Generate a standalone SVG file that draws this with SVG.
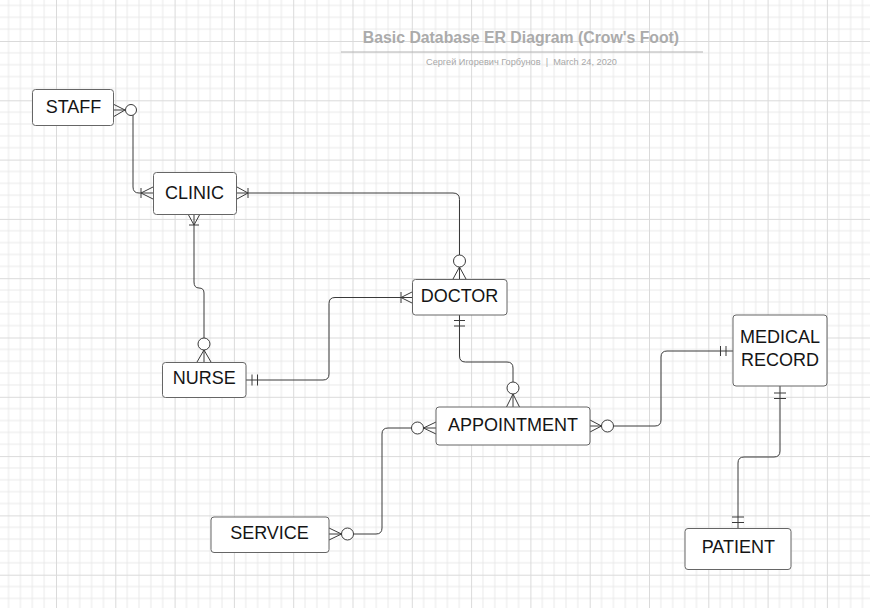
<svg xmlns="http://www.w3.org/2000/svg" width="870" height="608" viewBox="0 0 870 608">
<style>
.ent{fill:#ffffff;stroke:#666666;stroke-width:1}
.lbl{font-family:"Liberation Sans",Arial,sans-serif;font-size:18px;fill:#151515;text-anchor:middle}
.ln{fill:none;stroke:#3a3a3a;stroke-width:1}
.ck{fill:#ffffff;stroke:#3a3a3a;stroke-width:1}
.title{font-family:"Liberation Sans",Arial,sans-serif;font-size:15.8px;font-weight:bold;fill:#ababab;text-anchor:middle}
.sub{font-family:"Liberation Sans",Arial,sans-serif;font-size:9.2px;fill:#a8a8a8;text-anchor:middle;white-space:pre}
</style>
<defs>
<pattern id="grid" patternUnits="userSpaceOnUse" x="-3.3" y="-18.3" width="59.3" height="59.3">
<path d="M11.86 0V59.3M23.72 0V59.3M35.58 0V59.3M47.44 0V59.3M0 11.86H59.3M0 23.72H59.3M0 35.58H59.3M0 47.44H59.3" stroke="#e9e9e9" stroke-width="1" fill="none"/>
<path d="M0.5 0V59.3M0 0.5H59.3" stroke="#dadada" stroke-width="1" fill="none"/>
</pattern>
</defs>
<rect x="0" y="0" width="870" height="608" fill="#ffffff"/>
<rect x="0" y="0" width="870" height="608" fill="url(#grid)"/>

<g id="title">
<text class="title" x="521" y="42.5">Basic Database ER Diagram (Crow's Foot)</text>
<line x1="341" y1="52" x2="703" y2="52" stroke="#b4b4b4" stroke-width="1.2"/>
<text class="sub" x="521.5" y="65" xml:space="preserve">Сергей Игоревич Горбунов  |  March 24, 2020</text>
</g>

<g id="connectors">
<!-- STAFF - CLINIC -->
<path class="ln" d="M113 104L125 110L113 117M113 110H125"/>
<path class="ln" d="M133 114V187Q133 193 139 193H153"/>
<circle class="ck" cx="131" cy="110" r="5.5"/>
<path class="ln" d="M141 188V198M141 193L153 187M141 193L153 199"/>
<!-- CLINIC - DOCTOR -->
<path class="ln" d="M237 193H453Q459.5 193 459.5 199.5V255"/>
<path class="ln" d="M237 187L248 193L237 199M248 188V198"/>
<circle class="ck" cx="459.5" cy="261" r="6"/>
<path class="ln" d="M453 279L459.5 267L466 279M459.5 267V279"/>
<!-- CLINIC - NURSE -->
<path class="ln" d="M194 214V282Q194 288 199 288Q204 288 204 293V338"/>
<path class="ln" d="M188 214L194 225L200 214M189 225H199"/>
<circle class="ck" cx="204" cy="344" r="6"/>
<path class="ln" d="M197 362L204 350L211 362M204 350V362"/>
<!-- DOCTOR - NURSE -->
<path class="ln" d="M412 297.5H335Q329 297.5 329 303.5V374Q329 380 323 380H246"/>
<path class="ln" d="M412 292L401 297.5L412 303M401 292V303"/>
<path class="ln" d="M252 374.5V385.5M257.5 374.5V385.5"/>
<!-- DOCTOR - APPOINTMENT -->
<path class="ln" d="M459.5 315V356Q459.5 362 465.5 362H507Q513 362 513 368V382"/>
<path class="ln" d="M454 320.5H465M454 326H465"/>
<circle class="ck" cx="513" cy="388" r="6"/>
<path class="ln" d="M506.5 407L513 394L519.5 407M513 394V407"/>
<!-- APPOINTMENT - SERVICE -->
<path class="ln" d="M411.5 428H388Q382 428 382 434V528Q382 534 376 534H353.5"/>
<circle class="ck" cx="417.5" cy="428" r="6"/>
<path class="ln" d="M436 422L423.5 428L436 434M423.5 428H436"/>
<circle class="ck" cx="347.5" cy="534" r="6"/>
<path class="ln" d="M329 528L341.5 534L329 540M329 534H341.5"/>
<!-- APPOINTMENT - MEDICAL RECORD -->
<path class="ln" d="M613.5 426H655Q661 426 661 420V357Q661 351 667 351H733"/>
<path class="ln" d="M590 420L601.5 426L590 432M590 426H601.5"/>
<circle class="ck" cx="607.5" cy="426" r="6"/>
<path class="ln" d="M720.5 346V356M726 346V356"/>
<!-- MEDICAL RECORD - PATIENT -->
<path class="ln" d="M780 386V451Q780 457 774 457H744Q738 457 738 463V528"/>
<path class="ln" d="M774 393H786M774 398.5H786"/>
<path class="ln" d="M732 517H744M732 522.5H744"/>
</g>

<g id="staff">
<rect class="ent" x="32.5" y="89.5" width="81" height="36" rx="3"/>
<text class="lbl" x="73.5" y="112.5">STAFF</text>
</g>
<g id="clinic">
<rect class="ent" x="153.5" y="172.5" width="83" height="42" rx="3"/>
<text class="lbl" x="194.5" y="199">CLINIC</text>
</g>
<g id="doctor">
<rect class="ent" x="412.5" y="279.5" width="94.5" height="35.5" rx="3"/>
<text class="lbl" x="459.5" y="301.7">DOCTOR</text>
</g>
<g id="nurse">
<rect class="ent" x="162.5" y="362.5" width="83.5" height="35" rx="3"/>
<text class="lbl" x="204.2" y="384.3">NURSE</text>
</g>
<g id="appointment">
<rect class="ent" x="436" y="407" width="154" height="38" rx="3"/>
<text class="lbl" x="513" y="431">APPOINTMENT</text>
</g>
<g id="service">
<rect class="ent" x="211" y="517" width="118" height="35.5" rx="3"/>
<text class="lbl" x="269.5" y="539.3">SERVICE</text>
</g>
<g id="medical-record">
<rect class="ent" x="733" y="315" width="94" height="71" rx="3"/>
<text class="lbl" x="780" y="343.3">MEDICAL</text>
<text class="lbl" x="780" y="365.7">RECORD</text>
</g>
<g id="patient">
<rect class="ent" x="685" y="528.5" width="106" height="41" rx="3"/>
<text class="lbl" x="738.3" y="553.3">PATIENT</text>
</g>
</svg>
